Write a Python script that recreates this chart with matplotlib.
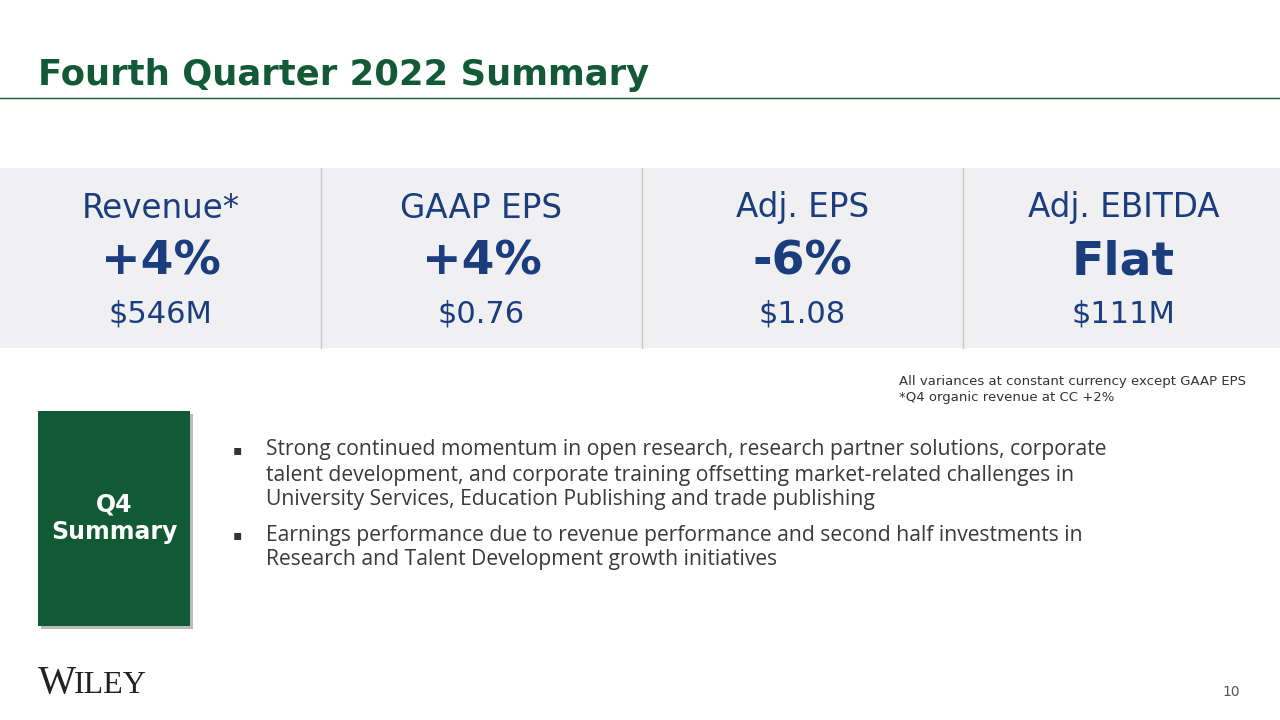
import matplotlib
matplotlib.use("Agg")
import matplotlib.pyplot as plt
from matplotlib.patches import Rectangle

# slide content
title = "Fourth Quarter 2022 Summary"
metric_names = ["Revenue*", "GAAP EPS", "Adj. EPS", "Adj. EBITDA"]
metric_changes = ["+4%", "+4%", "-6%", "Flat"]
metric_values = ["$546M", "$0.76", "$1.08", "$111M"]
notes = ["All variances at constant currency except GAAP EPS",
         "*Q4 organic revenue at CC +2%"]
bullets = [
    ["Strong continued momentum in open research, research partner solutions, corporate",
     "talent development, and corporate training offsetting market-related challenges in",
     "University Services, Education Publishing and trade publishing"],
    ["Earnings performance due to revenue performance and second half investments in",
     "Research and Talent Development growth initiatives"],
]
page_no = "10"

green = "#125a36"
blue = "#1b3d7d"

fig = plt.figure(figsize=(12.8, 7.2), dpi=100)
ax = fig.add_axes([0, 0, 1, 1])
ax.set_xlim(0, 1280)
ax.set_ylim(720, 0)
ax.axis("off")

ax.text(38, 75, title, fontsize=25.5, fontweight="bold", color=green,
        family="DejaVu Sans", va="center", ha="left")
ax.plot([0, 1280], [98, 98], color=green, lw=1)

# metric band
ax.add_patch(Rectangle((0, 168), 1280, 180, color="#f0f0f2", lw=0))
col_w = 321
for i in range(1, 4):
    ax.plot([i * col_w, i * col_w], [168, 348], color="#c8c8c8", lw=1)
for i, (n, c, v) in enumerate(zip(metric_names, metric_changes, metric_values)):
    cx = col_w * i + col_w / 2
    ax.text(cx, 208, n, fontsize=23.5, color=blue, ha="center", va="center")
    ax.text(cx, 262, c, fontsize=34, fontweight="bold", color=blue, ha="center", va="center")
    ax.text(cx, 314, v, fontsize=22, color=blue, ha="center", va="center")

for j, t in enumerate(notes):
    ax.text(899, 382 + j * 16, t, fontsize=9.5, color="#333333", ha="left", va="center")

# Q4 box with shadow
ax.add_patch(Rectangle((41, 414), 152, 215, color="#bbbbbb", lw=0))
ax.add_patch(Rectangle((38, 411), 152, 215, color=green, lw=0))
ax.text(114, 518, "Q4\nSummary", fontsize=17, fontweight="bold", color="white",
        ha="center", va="center", linespacing=1.2)

y = 450
for b in bullets:
    ax.text(233, y, "\u25aa", fontsize=10, color="#333333", ha="left", va="center")
    for line in b:
        ax.text(266, y, line, fontsize=15.2, color="#3a3a3a", family="Open Sans",
                ha="left", va="center")
        y += 25
    y += 10

ax.text(38, 693, "W", fontsize=29, family="Liberation Serif", color="#222222",
        ha="left", va="baseline")
ax.text(74, 693, "ILEY", fontsize=23, family="Liberation Serif", color="#222222",
        ha="left", va="baseline")
ax.text(1240, 692, page_no, fontsize=10, color="#555555", ha="right", va="center")

fig.savefig("out.png", dpi=100)
